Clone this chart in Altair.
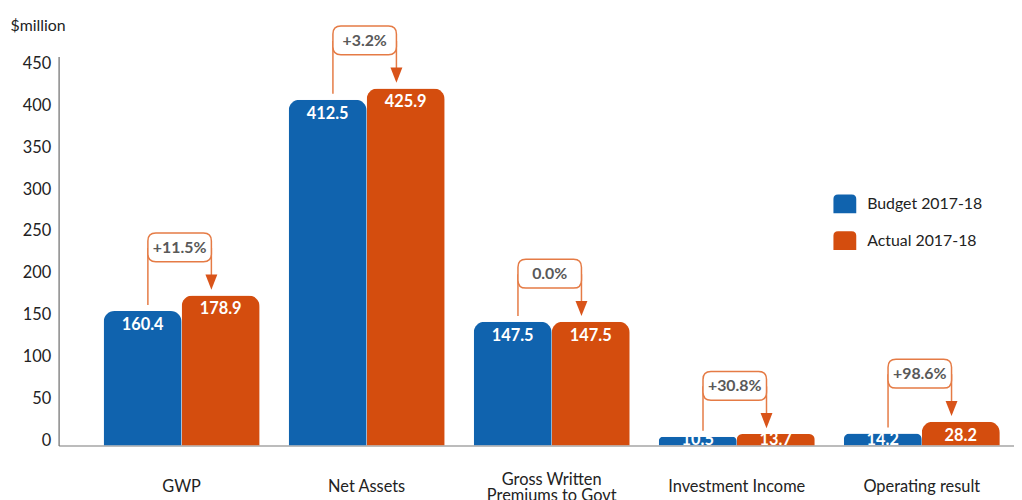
import altair as alt
import pandas as pd

categories = ["GWP", "Net Assets", "Gross Written Premiums to Govt", "Investment Income", "Operating result"]
budget = [160.4, 412.5, 147.5, 10.5, 14.2]
actual = [178.9, 425.9, 147.5, 13.7, 28.2]
change = ["+11.5%", "+3.2%", "0.0%", "+30.8%", "+98.6%"]
series = ["Budget 2017-18", "Actual 2017-18"]
colors = ["#1063AE", "#D44D0E"]
y_ticks = [0, 50, 100, 150, 200, 250, 300, 350, 400, 450]
two_line = "Gross Written Premiums to Govt"

FONT = "Lato"
LINE = "#E57B45"
ARROW = "#D9541A"
TXT = "#222222"

rows = []
for c, b, a in zip(categories, budget, actual):
    rows.append({"category": c, "series": series[0], "value": b})
    rows.append({"category": c, "series": series[1], "value": a})
long_df = pd.DataFrame(rows)
wide_df = pd.DataFrame({"category": categories, "budget": budget, "actual": actual, "change": change})

x_scale = alt.Scale(domain=categories, paddingInner=0.1568, paddingOuter=0.16, align=0.76)
y_scale = alt.Scale(domain=[0, 464], nice=False, zero=True)
off_scale = alt.Scale(domain=series, paddingInner=0, paddingOuter=0)

x_enc = alt.X(
    "category:N", scale=x_scale, sort=categories, title=None,
    axis=alt.Axis(labels=False, ticks=False, domainColor="#7a7a7a", domainWidth=1.2),
)

bars = alt.Chart(long_df).mark_bar(cornerRadiusTopLeft=11, cornerRadiusTopRight=11).encode(
    x=x_enc,
    xOffset=alt.XOffset("series:N", sort=series, scale=off_scale),
    y=alt.Y("value:Q", scale=y_scale, title="$million",
            axis=alt.Axis(values=y_ticks, grid=False, ticks=False, labelPadding=8,
                          labelFontSize=16.5, labelColor=TXT, labelFont=FONT, labelOffset=-5,
                          domainColor="#6b6b6b", domainWidth=1.2,
                          titleAngle=0, titleAlign="left", titleBaseline="alphabetic",
                          titleX=-49, titleY=-26, titleFontSize=16, titleFontWeight="normal",
                          titleFont=FONT, titleColor=TXT)),
    color=alt.Color("series:N", scale=alt.Scale(domain=series, range=colors),
                    legend=alt.Legend(title=None, orient="none", legendX=781, legendY=137,
                                      symbolType="M-1,0.83 L-1,-0.43 Q-1,-0.83 -0.6,-0.83 L0.6,-0.83 Q1,-0.83 1,-0.43 L1,0.83 Z",
                                      symbolSize=529, symbolStrokeWidth=0, symbolOpacity=1,
                                      labelFontSize=16, labelFont=FONT, labelColor=TXT,
                                      labelOffset=11, rowPadding=15, padding=0)),
)

bar_labels = alt.Chart(long_df).transform_calculate(
    ly="max(datum.value - 16.5, 6)"
).mark_text(color="white", fontWeight="bold", fontSize=16.5, font=FONT, baseline="middle").encode(
    x=alt.X("category:N", scale=x_scale, sort=categories),
    xOffset=alt.XOffset("series:N", sort=series, scale=off_scale),
    y=alt.Y("ly:Q", scale=y_scale),
    text=alt.Text("value:Q", format=".1f"),
)

base = alt.Chart(wide_df).encode(x=alt.X("category:N", scale=x_scale, sort=categories))

left_line = base.mark_rule(color=LINE, strokeWidth=1.5, xOffset=-34, yOffset=-6, y2Offset=-48).encode(
    y=alt.Y("budget:Q", scale=y_scale), y2="actual:Q"
)
right_line = base.mark_rule(color=LINE, strokeWidth=1.5, xOffset=30, yOffset=-48, y2Offset=-18).encode(
    y=alt.Y("actual:Q", scale=y_scale), y2="actual:Q"
)
arrow = base.mark_point(
    shape="M-0.75,-0.95 L0.75,-0.95 L0,0.95 Z", size=256, filled=True, fill=ARROW,
    strokeWidth=0, opacity=1, xOffset=30, yOffset=-13.5,
).encode(y=alt.Y("actual:Q", scale=y_scale))

box_path = ("M-0.75,-0.453 L0.75,-0.453 Q1,-0.453 1,-0.203 L1,0.203 Q1,0.453 0.75,0.453 "
            "L-0.75,0.453 Q-1,0.453 -1,0.203 L-1,-0.203 Q-1,-0.453 -0.75,-0.453 Z")
box = base.mark_point(
    shape=box_path, size=4096, filled=False, fill="white", fillOpacity=1, stroke=LINE,
    strokeWidth=1.5, opacity=1, xOffset=-2, yOffset=-48.5,
).encode(y=alt.Y("actual:Q", scale=y_scale))

pct = base.mark_text(color="#595959", fontWeight="bold", fontSize=16, font=FONT, baseline="middle",
                     xOffset=-2, yOffset=-48).encode(
    y=alt.Y("actual:Q", scale=y_scale), text="change:N"
)

cat_single = base.transform_filter(f"datum.category != '{two_line}'").mark_text(
    fontSize=16.5, font=FONT, color=TXT, baseline="middle"
).encode(y=alt.value(434), text="category:N")

cat_double = base.transform_filter(f"datum.category == '{two_line}'").transform_calculate(
    label="replace(datum.category, 'Written ', 'Written\\n')"
).mark_text(
    fontSize=16.5, font=FONT, color=TXT, baseline="middle", lineBreak="\n", lineHeight=16
).encode(y=alt.value(427), text="label:N")

chart = alt.layer(bars, bar_labels, left_line, right_line, arrow, box, pct, cat_single, cat_double).properties(
    width=963, height=392,
    autosize=alt.AutoSizeParams(type="none"),
    padding={"left": 51, "top": 47, "right": 0, "bottom": 53},
    background="white",
).configure_view(stroke=None)

chart.save("out.html", embed_options={"renderer": "svg", "actions": False})
